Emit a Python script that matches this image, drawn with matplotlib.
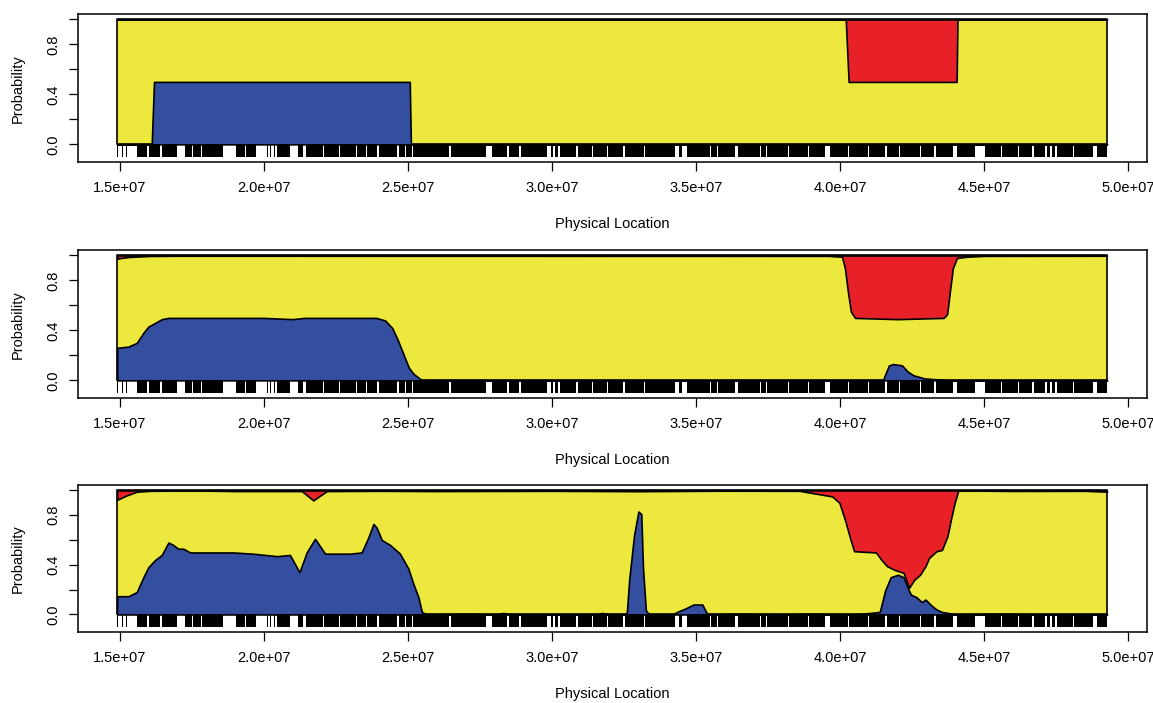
import numpy as np
import matplotlib
matplotlib.use("Agg")
import matplotlib.pyplot as plt
from matplotlib.ticker import FuncFormatter

plt.rcParams['font.family'] = ['Liberation Sans', 'DejaVu Sans']

# positions in Mb, converted to bp when drawn
chrom_start = 14.90
chrom_end = 49.27

# genotyped marker runs along the chromosome (Mb)
marker_runs = [
    (14.91, 14.94), (15.08, 15.11), (15.22, 15.25),
    (15.59, 15.95), (15.99, 16.40), (16.44, 16.97),
    (17.26, 17.50), (17.54, 17.80), (17.84, 18.56),
    (19.03, 19.35), (19.39, 19.72),
    (20.10, 20.13), (20.20, 20.23), (20.34, 20.37),
    (20.45, 20.90), (21.18, 21.36),
    (21.46, 22.05), (22.09, 22.60), (22.64, 23.20), (23.24, 23.55),
    (23.59, 23.94), (23.98, 24.63), (24.67, 24.88), (24.92, 25.15),
    (25.19, 26.44), (26.48, 27.70), (27.90, 28.45), (28.49, 28.87),
    (28.91, 29.83), (29.95, 30.05), (30.10, 30.20), (30.28, 30.85),
    (30.89, 31.40), (31.44, 31.92), (31.96, 32.48), (32.52, 33.18),
    (33.22, 34.27), (34.40, 34.50), (34.69, 35.48), (35.52, 35.73),
    (35.77, 36.35), (36.46, 37.23), (37.27, 37.43), (37.47, 38.18),
    (38.22, 38.88), (38.92, 39.48), (39.65, 40.28), (40.32, 40.98),
    (41.02, 41.58), (41.62, 42.06), (42.10, 42.78), (42.82, 43.28),
    (43.32, 43.92), (44.06, 44.69), (45.03, 45.58), (45.62, 46.18),
    (46.22, 46.68), (46.72, 47.12), (47.20, 47.30), (47.35, 47.45),
    (47.53, 48.08), (48.12, 48.78), (48.92, 49.26),
]

# panel 1: true ancestry
p1_blue_pos = [14.90, 16.10, 16.18, 25.06, 25.10, 49.27]
p1_blue = [0.0, 0.0, 0.5, 0.5, 0.0, 0.0]
p1_red_pos = [14.90, 40.20, 40.30, 44.05, 44.08, 49.27]
p1_red = [0.0, 0.0, 0.5, 0.5, 0.0, 0.0]

# panel 2
p2_blue_pos = [14.90, 15.29, 15.58, 15.81, 15.98, 16.22, 16.45, 16.68, 17.50,
               19.00, 20.00, 21.00, 21.40, 23.00, 23.90, 24.20, 24.45, 24.65,
               25.03, 25.20, 25.49, 30.00, 41.50, 41.54, 41.70, 41.85, 42.15,
               42.35, 42.55, 42.94, 43.85, 49.27]
p2_blue = [0.26, 0.27, 0.30, 0.38, 0.43, 0.46, 0.49, 0.50, 0.50,
           0.50, 0.50, 0.49, 0.50, 0.50, 0.50, 0.48, 0.42, 0.32,
           0.10, 0.05, 0.0, 0.0, 0.0, 0.03, 0.12, 0.13, 0.12,
           0.07, 0.04, 0.015, 0.0, 0.0]
p2_red_pos = [14.90, 15.30, 16.00, 17.00, 39.60, 40.07, 40.17, 40.28, 40.38,
              40.52, 42.00, 43.60, 43.72, 43.82, 43.92, 44.06, 44.40, 45.00,
              49.27]
p2_red = [0.025, 0.012, 0.004, 0.002, 0.003, 0.01, 0.10, 0.30, 0.45,
          0.50, 0.51, 0.50, 0.47, 0.28, 0.10, 0.02, 0.01, 0.003,
          0.002]

# panel 3
p3_blue_pos = [14.90, 15.29, 15.58, 15.81, 15.98, 16.22, 16.45, 16.68, 16.85,
               17.02, 17.20, 17.43, 18.36, 18.92, 19.62, 20.44, 20.90, 21.23,
               21.48, 21.77, 22.12, 22.41, 22.99, 23.39, 23.62, 23.80, 23.91,
               24.09, 24.38, 24.72, 25.01, 25.18, 25.36, 25.48, 25.65, 27.00,
               28.00, 28.30, 28.60, 31.50, 31.74, 32.00, 32.56, 32.60, 32.68,
               32.85, 33.00, 33.10, 33.16, 33.26, 33.38, 34.20, 34.34, 34.65,
               34.91, 35.22, 35.35, 35.42, 36.50, 38.00, 39.00, 40.50, 41.38,
               41.57, 41.76, 42.01, 42.21, 42.36, 42.46, 42.65, 42.84, 42.97,
               43.16, 43.35, 43.54, 44.05, 45.50, 47.00, 49.27]
p3_blue = [0.147, 0.147, 0.18, 0.30, 0.38, 0.44, 0.48, 0.58, 0.56,
           0.53, 0.53, 0.50, 0.50, 0.50, 0.49, 0.47, 0.48, 0.34,
           0.50, 0.61, 0.49, 0.49, 0.49, 0.50, 0.62, 0.73, 0.70,
           0.60, 0.56, 0.49, 0.37, 0.25, 0.14, 0.02, 0.0, 0.005,
           0.0, 0.012, 0.0, 0.0, 0.012, 0.0, 0.0, 0.02, 0.28,
           0.64, 0.83, 0.81, 0.37, 0.03, 0.0, 0.0, 0.02, 0.05,
           0.08, 0.08, 0.02, 0.0, 0.005, 0.0, 0.005, 0.0, 0.02,
           0.195, 0.30, 0.32, 0.30, 0.21, 0.16, 0.14, 0.10, 0.12,
           0.075, 0.04, 0.02, 0.0, 0.005, 0.0, 0.0]
p3_red_pos = [14.90, 15.23, 15.58, 16.04, 17.50, 19.00, 21.31, 21.71, 22.18,
              24.00, 26.00, 30.00, 33.00, 36.00, 38.59, 39.73, 39.98, 40.17,
              40.37, 40.49, 41.25, 41.44, 41.63, 41.89, 42.21, 42.40, 42.58,
              42.78, 42.97, 43.09, 43.35, 43.54, 43.73, 43.85, 43.98, 44.11,
              46.00, 48.50, 49.27]
p3_red = [0.075, 0.04, 0.01, 0.003, 0.0, 0.005, 0.005, 0.08, 0.005,
          0.003, 0.005, 0.003, 0.006, 0.002, 0.003, 0.048, 0.10, 0.236,
          0.40, 0.49, 0.50, 0.56, 0.61, 0.64, 0.665, 0.785, 0.72,
          0.68, 0.61, 0.545, 0.49, 0.48, 0.37, 0.236, 0.10, 0.0,
          0.004, 0.003, 0.01]

panels = [
    (p1_blue_pos, p1_blue, p1_red_pos, p1_red),
    (p2_blue_pos, p2_blue, p2_red_pos, p2_red),
    (p3_blue_pos, p3_blue, p3_red_pos, p3_red),
]

yellow = '#ede83e'
blue = '#344ea0'
red = '#e82128'

W, H = 1153, 703
fig = plt.figure(figsize=(W / 100, H / 100), dpi=100)

box_left, box_right = 77.7, 1146.7
box_tops = [14.0, 250.0, 485.0]
box_bottoms = [162.3, 398.3, 632.3]

MB = 1e6
xticks = np.arange(1.5e7, 5.01e7, 5e6)

for (bpos, bval, rpos, rval), top, bot in zip(panels, box_tops, box_bottoms):
    ax = fig.add_axes([box_left / W, 1 - bot / H,
                       (box_right - box_left) / W, (bot - top) / H])

    # whole chromosome filled yellow, blue stacked from bottom, red from top
    ax.fill_between([chrom_start * MB, chrom_end * MB], 0, 1,
                    facecolor=yellow, edgecolor='black', linewidth=1.2, zorder=1)
    bx = np.array(bpos) * MB
    ax.fill_between(bx, 0, bval, facecolor=blue, edgecolor='black',
                    linewidth=1.2, zorder=2)
    rx = np.array(rpos) * MB
    ax.fill_between(rx, 1 - np.array(rval), 1, facecolor=red,
                    edgecolor='black', linewidth=1.2, zorder=3)

    # marker rug
    ax.broken_barh([(s * MB, (e - s) * MB) for s, e in marker_runs],
                   (-0.1, 0.1), facecolors='black', edgecolor='none', zorder=2)

    ax.set_xlim(13.53e6, 50.65e6)
    ax.set_ylim(-0.144, 1.044)
    ax.set_xticks(xticks)
    ax.xaxis.set_major_formatter(FuncFormatter(lambda v, p: '%.1e' % v))
    ax.set_yticks([0, 0.2, 0.4, 0.6, 0.8, 1.0])
    ax.set_yticklabels(['0.0', '', '0.4', '', '0.8', ''],
                       rotation=90, va='center')
    ax.tick_params(direction='out', length=6.5, width=0.9, labelsize=10.5,
                   colors='black')
    ax.tick_params(axis='x', pad=7)
    ax.tick_params(axis='y', pad=6)
    for s in ax.spines.values():
        s.set_linewidth(1.1)

    fig.text(18 / W, 1 - (top + bot) / 2 / H, 'Probability', rotation=90,
             ha='center', va='center', fontsize=10.5)
    fig.text((box_left + box_right) / 2 / W, 1 - (bot + 62) / H,
             'Physical Location', ha='center', va='center', fontsize=10.5)

fig.savefig('out.png', dpi=100)
